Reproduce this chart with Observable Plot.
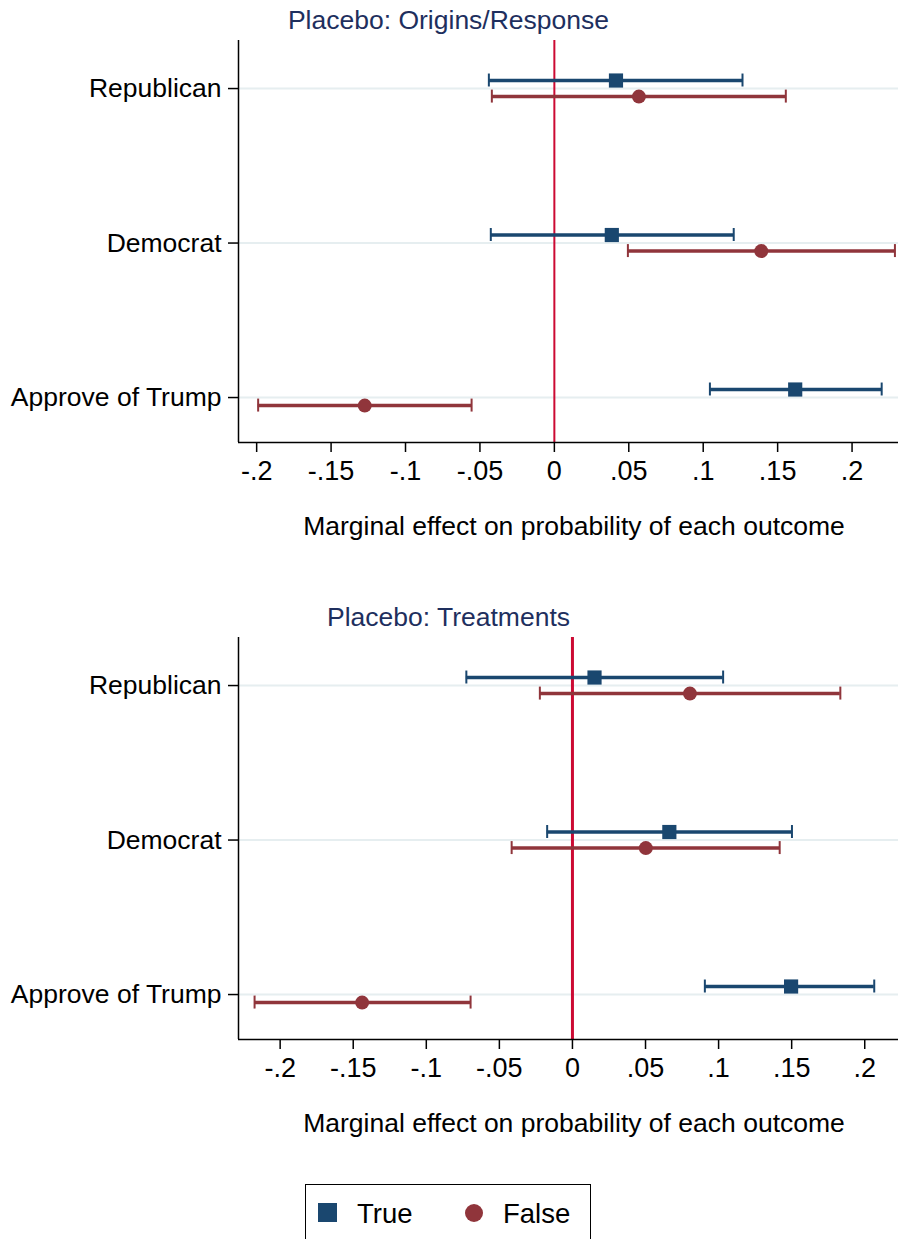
<!DOCTYPE html>
<html><head><meta charset="utf-8">
<script src="https://cdn.jsdelivr.net/npm/d3@7"></script>
<script src="https://cdn.jsdelivr.net/npm/@observablehq/plot@0.6"></script>
<style>
body{margin:0;background:#fff;}
#root{position:relative;width:899px;height:1239px;overflow:hidden;font-family:"Liberation Sans",Arial,Helvetica,sans-serif;background:#fff;}
.t{position:absolute;white-space:nowrap;line-height:1;}
.panel{position:absolute;left:0;}
</style></head><body><div id="root"></div>
<script>
// ---------- data ----------
const categories = ["Republican", "Democrat", "Approve of Trump"];
const series = ["True", "False"];
const xTicks = [-0.2, -0.15, -0.1, -0.05, 0, 0.05, 0.1, 0.15, 0.2];
const panelTitles = ["Placebo: Origins/Response", "Placebo: Treatments"];
const axisTitle = "Marginal effect on probability of each outcome";

// Panel 1: Placebo: Origins/Response
const p1TrueEst = [0.0414, 0.0386, 0.1618];
const p1TrueLo  = [-0.0440, -0.0427, 0.1045];
const p1TrueHi  = [0.1264, 0.1205, 0.2199];
const p1FalseEst = [0.0568, 0.1390, -0.1274];
const p1FalseLo  = [-0.0420, 0.0494, -0.1990];
const p1FalseHi  = [0.1555, 0.2288, -0.0556];

// Panel 2: Placebo: Treatments
const p2TrueEst = [0.0151, 0.0663, 0.1496];
const p2TrueLo  = [-0.0726, -0.0173, 0.0906];
const p2TrueHi  = [0.1031, 0.1502, 0.2065];
const p2FalseEst = [0.0804, 0.0502, -0.1439];
const p2FalseLo  = [-0.0223, -0.0416, -0.2175];
const p2FalseHi  = [0.1833, 0.1418, -0.0697];

// ---------- styling ----------
const FONT = '"Liberation Sans", Arial, Helvetica, sans-serif';
const NAVY = "#1a476f", MAROON = "#90353b", ZERO = "#cc0a33", GRID = "#e6eef0", TITLE = "#1e2f5e";
const OFFSET = {True: -0.052, False: 0.052};
const Y_DOMAIN = [2.291, -0.311];

function fmt(d) {
  if (d === 0) return "0";
  return (d < 0 ? "-" : "") + String(Math.abs(d)).replace(/^0/, "");
}

function rowsFor(tEst, tLo, tHi, fEst, fLo, fHi) {
  const rows = [];
  categories.forEach((c, i) => {
    rows.push({cat: c, s: "True", y: i + OFFSET.True, est: tEst[i], lo: tLo[i], hi: tHi[i]});
    rows.push({cat: c, s: "False", y: i + OFFSET.False, est: fEst[i], lo: fLo[i], hi: fHi[i]});
  });
  return rows;
}

function makePanel(rows, xDomain, zeroWidth) {
  return Plot.plot({
    width: 899, height: 500,
    marginTop: 40, marginBottom: 58, marginLeft: 238, marginRight: 1,
    style: {fontFamily: FONT, background: "transparent", color: "black", overflow: "visible"},
    x: {domain: xDomain},
    y: {domain: Y_DOMAIN},
    color: {domain: series, range: [NAVY, MAROON]},
    marks: [
      Plot.ruleY([0, 1, 2], {stroke: GRID, strokeWidth: 2}),
      Plot.ruleX([0], {stroke: ZERO, strokeWidth: zeroWidth}),
      Plot.ruleY(rows, {y: "y", x1: "lo", x2: "hi", stroke: "s", strokeWidth: 3.5}),
      Plot.ruleX(rows, {x: "lo", y1: d => d.y - 0.042, y2: d => d.y + 0.042, stroke: "s", strokeWidth: 2}),
      Plot.ruleX(rows, {x: "hi", y1: d => d.y - 0.042, y2: d => d.y + 0.042, stroke: "s", strokeWidth: 2}),
      Plot.dot(rows.filter(d => d.s === "True"), {x: "est", y: "y", symbol: "square", r: 8, fill: "s", stroke: null}),
      Plot.dot(rows.filter(d => d.s === "False"), {x: "est", y: "y", symbol: "circle", r: 7, fill: "s", stroke: null}),
      Plot.ruleX([xDomain[0]], {stroke: "black", strokeWidth: 1.5}),
      Plot.ruleY([Y_DOMAIN[0]], {stroke: "black", strokeWidth: 1.5}),
      Plot.axisX({ticks: xTicks, tickFormat: fmt, tickSize: 10, tickPadding: 8, fontSize: 27, label: null, strokeWidth: 1.5}),
      Plot.axisY({ticks: [0, 1, 2], tickFormat: i => categories[i], tickSize: 10, tickPadding: 7, fontSize: 26.5, label: null, strokeWidth: 1.5})
    ]
  });
}

const root = document.getElementById("root");
function addText(txt, cx, top, size, color) {
  const d = document.createElement("div");
  d.className = "t";
  d.textContent = txt;
  d.style.fontSize = size + "px";
  d.style.top = top + "px";
  d.style.left = cx + "px";
  d.style.transform = "translateX(-50%)";
  d.style.color = color;
  root.appendChild(d);
}

const panels = [
  {rows: rowsFor(p1TrueEst, p1TrueLo, p1TrueHi, p1FalseEst, p1FalseLo, p1FalseHi), xDomain: [-0.2122, 0.2312], zw: 2, top: 0},
  {rows: rowsFor(p2TrueEst, p2TrueLo, p2TrueHi, p2FalseEst, p2FalseLo, p2FalseHi), xDomain: [-0.2285, 0.2231], zw: 3, top: 597}
];

panels.forEach((p, k) => {
  const wrap = document.createElement("div");
  wrap.className = "panel";
  wrap.style.top = p.top + "px";
  wrap.appendChild(makePanel(p.rows, p.xDomain, p.zw));
  root.appendChild(wrap);
  addText(panelTitles[k], 448.5, p.top + 7, 26.5, TITLE);
  addText(axisTitle, 574, p.top + 513, 26.5, "black");
});

// legend
const leg = document.createElement("div");
leg.style.cssText = "position:absolute;left:305px;top:1184px;width:286px;height:90px;border:1.5px solid #000;box-sizing:border-box;";
leg.innerHTML =
  '<svg width="286" height="90" style="position:absolute;left:0;top:0">' +
  '<rect x="12" y="18" width="19" height="19" fill="' + NAVY + '"/>' +
  '<circle cx="168" cy="28" r="9" fill="' + MAROON + '"/>' +
  '</svg>';
root.appendChild(leg);
[[series[0], 357], [series[1], 503]].forEach(([s, x]) => {
  const d = document.createElement("div");
  d.className = "t";
  d.textContent = s;
  d.style.cssText += "font-size:27.5px;top:1200px;left:" + x + "px;color:#000;";
  root.appendChild(d);
});
</script>
</body></html>
